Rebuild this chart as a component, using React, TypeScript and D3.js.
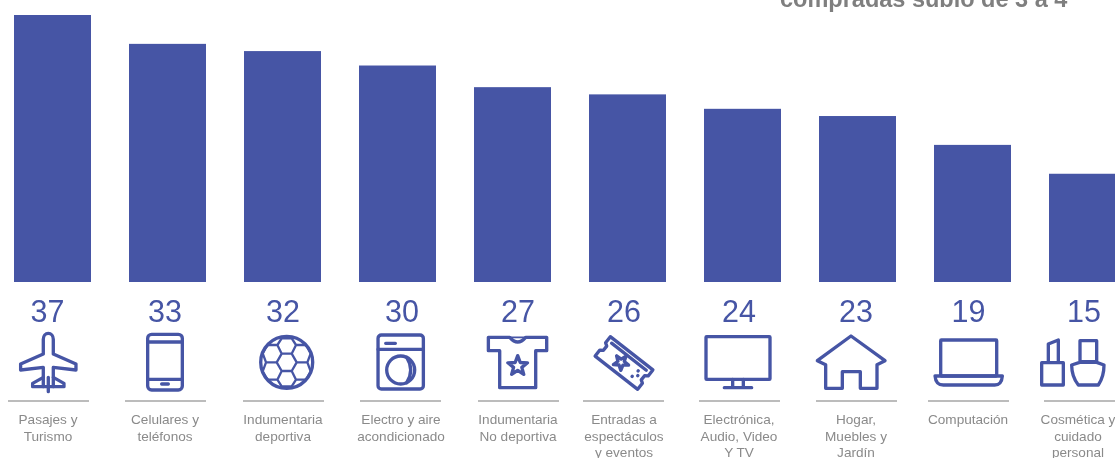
import React from "react";
import * as d3 from "d3";

const categories = ["Pasajes y Turismo", "Celulares y teléfonos", "Indumentaria deportiva", "Electro y aire acondicionado", "Indumentaria No deportiva", "Entradas a espectáculos y eventos", "Electrónica, Audio, Video Y TV", "Hogar, Muebles y Jardín", "Computación", "Cosmética y cuidado personal"];
const values = [37, 33, 32, 30, 27, 26, 24, 23, 19, 15];
const labelLines = [["Pasajes y", "Turismo"], ["Celulares y", "teléfonos"], ["Indumentaria", "deportiva"], ["Electro y aire", "acondicionado"], ["Indumentaria", "No deportiva"], ["Entradas a", "espectáculos", "y eventos"], ["Electrónica,", "Audio, Video", "Y TV"], ["Hogar,", "Muebles y", "Jardín"], ["Computación"], ["Cosmética y", "cuidado", "personal"]];
const titleText = "compradas subió de 3 a 4";

// layout of the column annotations (not data)
const numberX = [47.5, 165, 283, 402, 518, 624, 739, 856, 968.5, 1084];
const iconX = [48.3, 165, 286.7, 400.7, 517.7, 624, 738, 851, 968.7, 1084];
const ruleX = [8, 125, 243, 360, 478, 583, 699, 816, 928, 1044];
const labelX = [48, 165, 283, 401, 518, 624, 739, 856, 968, 1078];

const BLUE = "#4655a5";
const GREY = "#8a8a8a";

const star = (r: number, inner: number) => {
  const p = d3.range(10).map((i) => {
    const a = (i * Math.PI) / 5 - Math.PI / 2;
    const q = i % 2 ? inner : r;
    return `${(q * Math.cos(a)).toFixed(1)},${(q * Math.sin(a)).toFixed(1)}`;
  });
  return "M" + p.join("L") + "Z";
};

// Icons are drawn at 3x, x relative to their centre, y relative to y=290.
const Icons: React.ReactNode[] = [
  <g>
    <path d="M-15 192V148A15 18 0 0 1 15 148V192L83 222V240L15 232V262L47 280V290H-47V280L-15 262V232L-83 240V222Z" />
    <path d="M0 262V305M-15 262V290M15 262V290" />
  </g>,
  <g>
    <rect x={-52} y={133} width={104} height={167} rx={12} />
    <path d="M-52 156H52M-52 268H52M-10 282H10" />
  </g>,
  <g>
    <clipPath id="ballClip"><circle cx={0} cy={217} r={78} /></clipPath>
    <circle cx={0} cy={217} r={78} />
    <path clipPath="url(#ballClip)" d="M-30 217L-15 191H15L30 217L15 243H-15ZM-15 191L-28 165L-15 145H15L28 165L15 191M-15 243L-28 269L-15 289H15L28 269L15 243M-28 165H-58L-72 190L-62 217H-30M28 165H58L72 190L62 217H30M-28 269H-58L-72 244L-62 217M28 269H58L72 244L62 217M-15 145L-22 135M15 145L22 135M-15 289L-22 300M15 289L22 300M-72 190L-80 190M72 190L80 190M-72 244L-80 244M72 244L80 244" strokeWidth={7} />
  </g>,
  <g>
    <rect x={-68} y={135} width={136} height={162} rx={10} />
    <path d="M-68 178H68M-45 160H-16" />
    <circle cx={0} cy={240} r={42} />
    <path d="M18 202Q42 240 18 278" />
  </g>,
  <g>
    <path d="M-24 142Q0 170 24 142H87V182H54V293H-54V182H-88V142Z" />
    <path d="M-24 142H24" strokeWidth={5} />
    <path transform="translate(0 228)" d={star(31, 13)} />
  </g>,
  <g transform="translate(0 219) rotate(38)">
    <path d="M-81 -37H81V-14L72 -8V8L81 14V37H-81V14L-72 8V-8L-81 -14Z" />
    <path d="M-66 -24H66" />
    <path transform="translate(-8 4)" d={star(24, 10)} />
    <path d="M48 -8V-7M56 4V5M44 16V17" strokeWidth={10} strokeLinecap="round" />
  </g>,
  <g>
    <rect x={-96} y={140} width={192} height={128} rx={2} />
    <path d="M-16 268V293M16 268V293M-41 293H41" />
  </g>,
  <g>
    <path d="M0 138L102 212L78 224V295H28V245H-26V295H-76V224L-101 212Z" />
  </g>,
  <g>
    <rect x={-84} y={150} width={168} height={108} rx={2} />
    <path d="M-101 258H101Q99 285 78 285H-76Q-99 285 -101 258Z" />
  </g>,
  <g transform="translate(-95 0)">
    <path d="M-32 218H33V285H-32ZM-12 218V162L18 150V218" />
    <path d="M83 152H133V215H83ZM82 217H133L155 225Q155 260 138 285H78Q58 260 58 225Z" />
  </g>,
];

const W = 1115;
const H = 458;

export default function App() {
  const x = d3.scaleBand<string>().domain(categories).range([14, 14 + 115 * categories.length - 38]).paddingInner(38 / 115).paddingOuter(0);
  const y = d3.scaleLinear().domain([0, 37]).range([282, 15]);
  return (
    <svg width={W} height={H} style={{ position: "absolute", left: 0, top: 0, display: "block", filter: "blur(0.4px)" }} fontFamily="'Liberation Sans', Arial, sans-serif">
      <rect width={W} height={H} fill="#fff" />
      <text x={780} y={7} fontSize={23.5} fontWeight="bold" fill="#7f7f7f">{titleText}</text>
      {categories.map((c, i) => (
        <g key={c}>
          <rect x={x(c)} y={y(values[i])} width={x.bandwidth()} height={y(0) - y(values[i])} fill={BLUE} />
          <text x={numberX[i]} y={322} textAnchor="middle" fontSize={30.5} fill={BLUE}>{values[i]}</text>
          <g transform={`translate(${iconX[i]} 290) scale(${1 / 3})`} fill="none" stroke={BLUE} strokeWidth={10} strokeLinejoin="round" strokeLinecap="round">
            {Icons[i]}
          </g>
          <line x1={ruleX[i]} x2={ruleX[i] + 81} y1={401} y2={401} stroke="#a6a6a6" strokeWidth={1.4} />
          {labelLines[i].map((l, j) => (
            <text key={j} x={labelX[i]} y={424 + j * 16.5} textAnchor="middle" fontSize={13.6} fill={GREY}>{l}</text>
          ))}
        </g>
      ))}
    </svg>
  );
}
